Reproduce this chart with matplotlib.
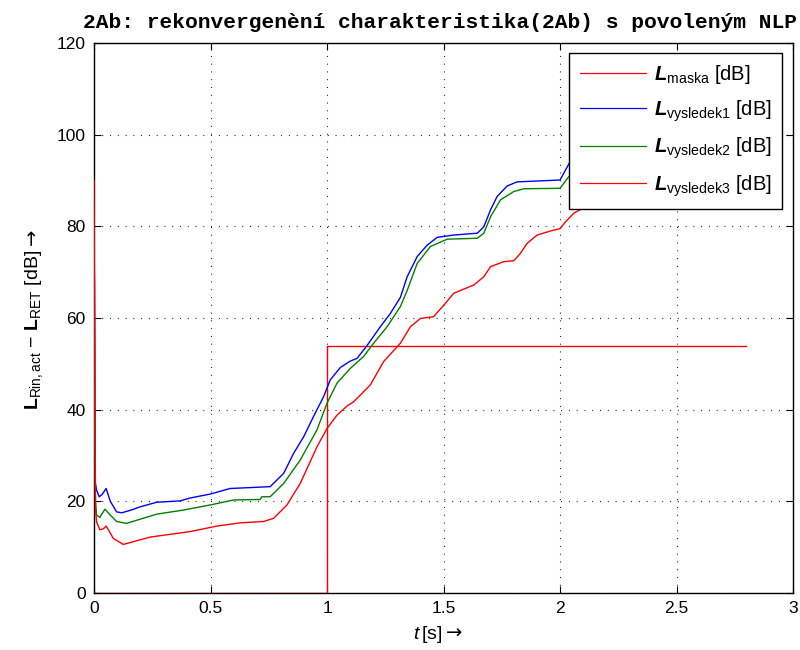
import matplotlib
matplotlib.use("Agg")
import matplotlib.pyplot as plt
from matplotlib.lines import Line2D

plt.rcParams["font.family"] = ["Liberation Sans", "DejaVu Sans"]
plt.rcParams["mathtext.fontset"] = "custom"
plt.rcParams["mathtext.rm"] = "Liberation Sans"
plt.rcParams["mathtext.it"] = "Liberation Sans:italic"
plt.rcParams["mathtext.bf"] = "Liberation Sans:bold"
plt.rcParams["mathtext.bfit"] = "Liberation Sans:italic:bold"

# --- data -------------------------------------------------------------
t_maska = [0.0, 1.0, 1.0, 2.8]
L_maska = [0.0, 0.0, 54.0, 54.0]

t_v1 = [0, 0.002, 0.004, 0.006, 0.011, 0.022, 0.035, 0.052, 0.07, 0.097,
        0.119, 0.16, 0.198, 0.269, 0.37, 0.41, 0.5, 0.584, 0.756, 0.814,
        0.857, 0.9, 0.942, 0.985, 1.014, 1.057, 1.1, 1.129, 1.172, 1.229,
        1.272, 1.315, 1.344, 1.387, 1.43, 1.473, 1.544, 1.645, 1.673, 1.702,
        1.73, 1.773, 1.816, 2.0, 2.04, 2.1, 2.3, 2.5, 2.8]
L_v1 = [77, 67, 40, 24, 22.5, 21, 21.5, 22.8, 20, 17.7,
        17.5, 18.1, 18.8, 19.8, 20.1, 20.7, 21.6, 22.8, 23.2, 26.1,
        30.5, 34.1, 38.5, 42.8, 46.5, 49.2, 50.6, 51.2, 54.0, 58.1,
        61.0, 64.5, 69.0, 73.4, 75.9, 77.6, 78.1, 78.5, 79.9, 83.6,
        86.5, 88.8, 89.7, 90.1, 93.8, 95.0, 97.0, 99.0, 100.0]

t_v2 = [0, 0.002, 0.004, 0.006, 0.011, 0.025, 0.047, 0.07, 0.097, 0.14,
        0.198, 0.269, 0.384, 0.498, 0.599, 0.713, 0.72, 0.756, 0.814, 0.885,
        0.957, 1.0, 1.043, 1.1, 1.157, 1.2, 1.258, 1.315, 1.344, 1.387,
        1.444, 1.516, 1.645, 1.673, 1.702, 1.745, 1.802, 1.845, 2.0, 2.037,
        2.1, 2.3, 2.5, 2.8]
L_v2 = [76, 60, 33, 20, 17.0, 16.5, 18.3, 17.0, 15.6, 15.2,
        16.1, 17.2, 18.1, 19.2, 20.3, 20.4, 21.0, 21.0, 23.9, 29.0,
        35.6, 41.4, 45.8, 49.0, 51.6, 54.5, 58.1, 62.5, 66.0, 71.9,
        75.6, 77.2, 77.4, 78.5, 82.1, 85.8, 87.6, 88.2, 88.3, 90.8,
        92.0, 94.0, 96.0, 97.0]

t_v3 = [0, 0.002, 0.004, 0.007, 0.011, 0.025, 0.04, 0.052, 0.065, 0.083,
        0.126, 0.169, 0.241, 0.341, 0.413, 0.527, 0.627, 0.728, 0.771, 0.828,
        0.885, 0.957, 1.0, 1.043, 1.086, 1.114, 1.186, 1.243, 1.315, 1.358,
        1.401, 1.458, 1.501, 1.544, 1.63, 1.673, 1.702, 1.759, 1.802, 1.83,
        1.859, 1.902, 1.96, 2.0, 2.024, 2.06, 2.1, 2.16, 2.3, 2.45,
        2.6, 2.8]
L_v3 = [90, 67, 35, 18, 15.5, 13.8, 14.0, 14.6, 13.5, 11.9,
        10.6, 11.2, 12.2, 12.9, 13.4, 14.6, 15.3, 15.6, 16.3, 19.2,
        23.9, 31.9, 35.9, 38.8, 40.8, 41.7, 45.4, 50.5, 54.5, 58.1,
        59.9, 60.3, 62.8, 65.4, 67.2, 69.0, 71.2, 72.3, 72.5, 74.1,
        76.3, 78.1, 79.0, 79.5, 81.0, 82.9, 84.0, 84.3, 84.5, 84.8,
        86.0, 87.0]

x_ticks = [0, 0.5, 1, 1.5, 2, 2.5, 3]
x_ticklabels = ["0", "0.5", "1", "1.5", "2", "2.5", "3"]
y_ticks = [0, 20, 40, 60, 80, 100, 120]

labels = [r"$\mathbfit{L}_{\mathrm{maska}}$ [dB]",
          r"$\mathbfit{L}_{\mathrm{vysledek1}}$ [dB]",
          r"$\mathbfit{L}_{\mathrm{vysledek2}}$ [dB]",
          r"$\mathbfit{L}_{\mathrm{vysledek3}}$ [dB]"]
colors = ["#ff0000", "#0000ff", "#008000", "#ff0000"]

# --- figure -----------------------------------------------------------
W, H = 800, 650
fig = plt.figure(figsize=(8, 6.5), dpi=100)
ax = fig.add_axes([94 / W, 57 / H, 699 / W, 550 / H])

series = [(t_maska, L_maska), (t_v1, L_v1), (t_v2, L_v2), (t_v3, L_v3)]
for (t, L), c in zip(series, colors):
    ax.plot(t, L, color=c, lw=1.0, zorder=3)

ax.set_xlim(0, 3)
ax.set_ylim(0, 120)
ax.set_xticks(x_ticks)
ax.set_xticklabels(x_ticklabels)
ax.set_yticks(y_ticks)

ax.grid(True, color="k", linestyle=(0, (0.8, 6.2)), linewidth=0.8)
ax.tick_params(direction="in", top=True, right=True, length=5, width=0.8,
               labelsize=12.5, pad=6)
for sp in ax.spines.values():
    sp.set_linewidth(1.0)

handles = [Line2D([], [], color=c, lw=0.9) for c in colors]
leg = ax.legend(handles, labels, loc="upper right",
                bbox_to_anchor=(0.984, 0.982), borderaxespad=0,
                frameon=True, fancybox=False, framealpha=1, edgecolor="k",
                fontsize=14.5, handlelength=3.3, handletextpad=0.4,
                labelspacing=0.6, borderpad=0.5)
leg.get_frame().set_linewidth(1.0)

fig.text(440 / W, 1 - 28 / H,
         "2Ab: rekonvergenèní charakteristika(2Ab) s povoleným NLP",
         family="Liberation Mono", weight="bold", fontsize=15.3,
         ha="center", va="baseline")

# axis labels, each followed by an arrow glyph from DejaVu Sans
ylab = fig.text(38 / W, 1 - 410 / H,
                r"$\mathbf{L}_{\mathrm{Rin,act}}$ − $\mathbf{L}_{\mathrm{RET}}$ [dB]",
                rotation=90, rotation_mode="anchor", ha="left",
                va="baseline", fontsize=14)
xlab = fig.text(413 / W, 1 - 639 / H, r"$t\,$[s]",
                ha="left", va="baseline", fontsize=14)

fig.canvas.draw()
yb = ylab.get_window_extent()
xb = xlab.get_window_extent()
fig.text(38 / W, (yb.y1 + 5) / H, "→", family="DejaVu Sans",
         rotation=90, rotation_mode="anchor", ha="left", va="baseline",
         fontsize=14)
fig.text((xb.x1 + 4) / W, 1 - 639 / H, "→", family="DejaVu Sans",
         ha="left", va="baseline", fontsize=14)

fig.savefig("out.png", dpi=100)
